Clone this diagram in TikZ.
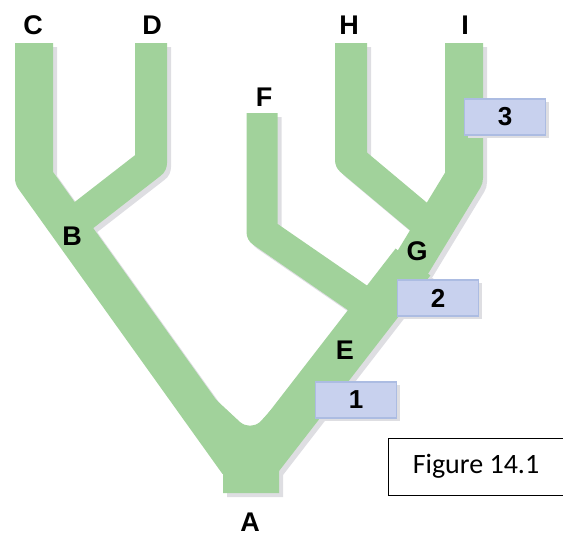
\documentclass[tikz,border=0pt]{standalone}
\usepackage{fontspec}
\usetikzlibrary{shadows}
\newfontfamily\labfont{Liberation Sans}
\newfontfamily\figfont{Carlito}
\definecolor{branch}{RGB}{161,210,155}
\definecolor{shade}{RGB}{222,222,226}
\definecolor{boxfill}{RGB}{200,209,238}
\definecolor{boxline}{RGB}{172,188,226}

% the whole tree of limbs, drawn in the colour given as #1
\newcommand\treelimbs[1]{%
  \begin{scope}[#1, line join=round]
    % C down through B to the root
    \draw[line width=38] (34,43) -- (34,178) -- (238,463);
    % D joining at B
    \draw[line width=32] (151,43) -- (151,163) -- (75,222);
    % root to E, G and up to I
    \draw[line width=38] (252,470) -- (413,262) -- (464,178) -- (464,43);
    \draw[line width=44] (252,470) -- (413,262);
    % H joining at G
    \draw[line width=32] (351,43) -- (351,160) -- (425,222);
    % F joining below G
    \draw[line width=31] (262,113) -- (262,232) -- (365,303);
    % trunk at A
    \fill (212,396) -- (240,422) .. controls (246,427) and (254,427) .. (260,422)
      -- (282,398) -- (300,430) -- (279,462) -- (279,493) -- (223,493)
      -- (223,474) .. controls (216,462) and (208,452) .. (202,442) -- cycle;
  \end{scope}}

\begin{document}
\begin{tikzpicture}[x=1pt,y=-1pt,
  taxon/.style={font=\labfont\bfseries\fontsize{27}{27}\selectfont, inner sep=0pt},
  numbox/.style={draw=boxline, fill=boxfill, line width=1.5pt,
    minimum width=81pt, minimum height=36pt, inner sep=0pt,
    font=\labfont\bfseries\fontsize{26}{26}\selectfont,
    drop shadow={shadow xshift=3pt, shadow yshift=-3pt, fill=shade, opacity=1}},
  figframe/.style={draw=black, line width=1.3pt, minimum width=182pt,
    minimum height=57pt, inner sep=0pt, anchor=north west},
  figtext/.style={font=\figfont\fontsize{28}{28}\selectfont, inner sep=0pt}]
  \useasboundingbox (0,0) rectangle (563,536);
  \clip (0,0) rectangle (563,536);

  % soft shadow, then the green limbs on top
  \begin{scope}[shift={(4,4)}]
    \treelimbs{draw=shade, fill=shade}
  \end{scope}
  \treelimbs{draw=branch, fill=branch}

  % taxa and nodes
  \node[taxon] (C) at (33,25) {C};
  \node[taxon] (D) at (152,25) {D};
  \node[taxon] (H) at (349,25) {H};
  \node[taxon] (I) at (465,25) {I};
  \node[taxon] (F) at (264,97) {F};
  \node[taxon] (B) at (72,236) {B};
  \node[taxon] (G) at (417,251) {G};
  \node[taxon] (E) at (345,350) {E};
  \node[taxon] (A) at (250,522) {A};

  % numbered characters
  \node[numbox] (n3) at (505,117) {3};
  \node[numbox] (n2) at (438,298) {2};
  \node[numbox] (n1) at (356,400) {1};

  % caption box
  \node[figframe] (frame) at (388,438) {};
  \node[figtext] (caption) at (476,466) {Figure 14.1};
\end{tikzpicture}
\end{document}
